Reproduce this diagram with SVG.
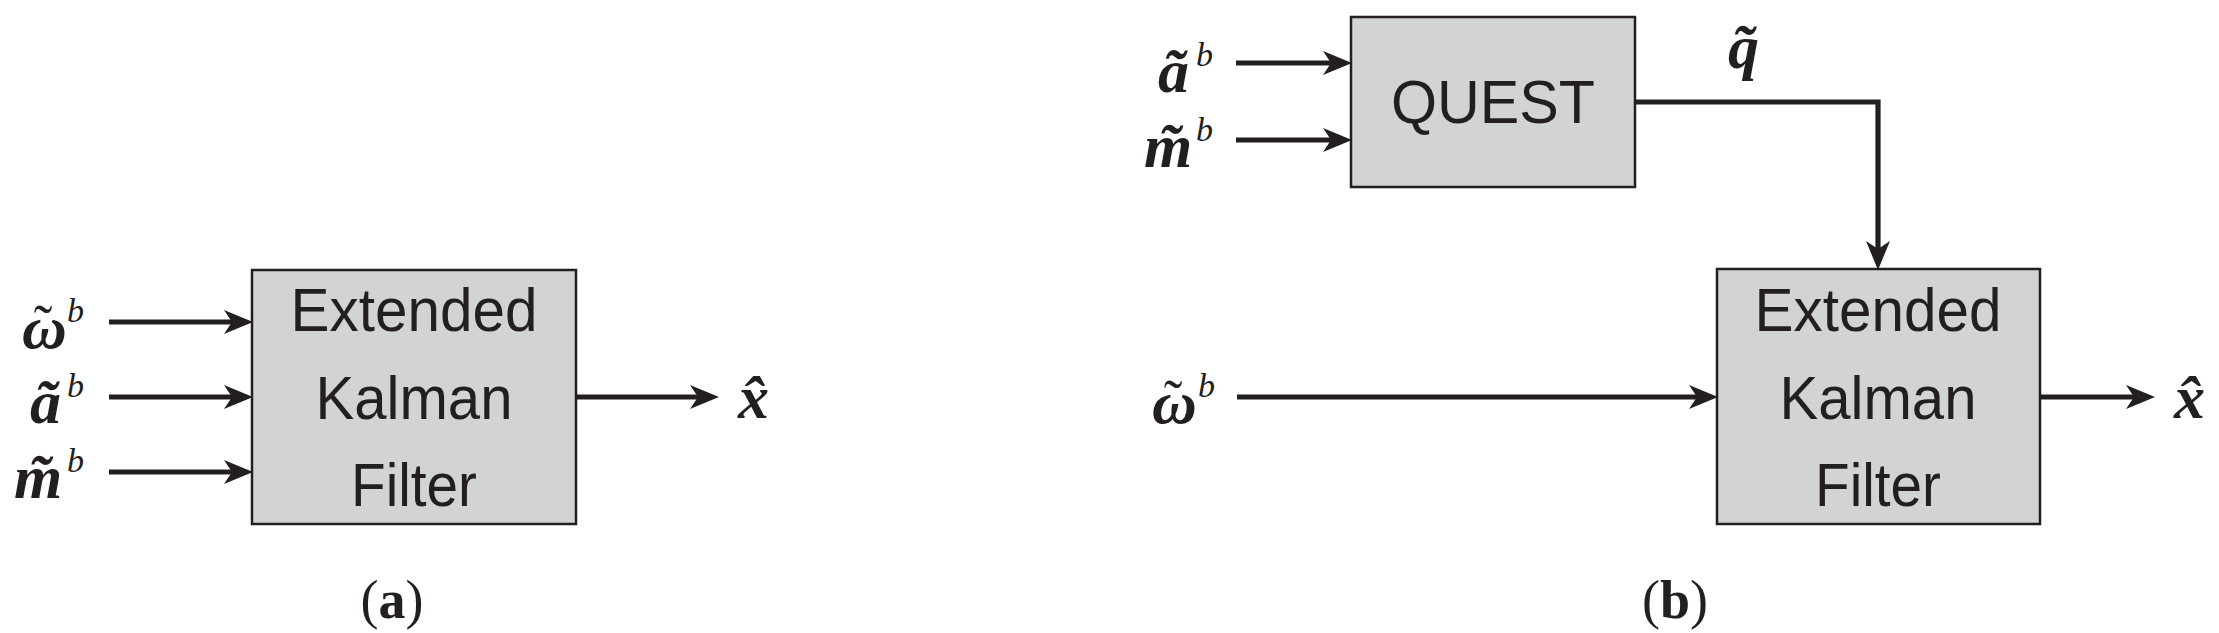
<svg xmlns="http://www.w3.org/2000/svg" width="2219" height="633" viewBox="0 0 2219 633">
<style>
.box{fill:#d1d3d4;stroke:#231f20;stroke-width:2.5}
.lbl{font-family:"Liberation Sans",Arial,sans-serif;font-size:62px;fill:#231f20;text-anchor:middle}
.m{font-family:"Liberation Serif","Times New Roman",serif;font-size:62px;font-weight:bold;font-style:italic;fill:#231f20}
.sup{font-size:34px;font-weight:normal}
.til{font-size:56px;font-weight:normal;font-style:normal}
.cap{font-family:"Liberation Serif","Times New Roman",serif;font-size:54px;fill:#231f20;text-anchor:middle}
.wire{fill:none;stroke:#231f20;stroke-width:5.2}
</style>
<defs>
<marker id="ah" markerUnits="userSpaceOnUse" markerWidth="30" markerHeight="26" viewBox="0 0 30 26" refX="14" refY="13" orient="auto">
<path d="M0,1 L29,13 L0,25 L8,13 Z" fill="#231f20"/>
</marker>
</defs>
<rect width="2219" height="633" fill="#ffffff"/>

<g id="ekf-a">
<rect class="box" x="252" y="270" width="324" height="254"/>
<text class="lbl" x="414" y="331" textLength="247" lengthAdjust="spacingAndGlyphs">Extended</text>
<text class="lbl" x="414" y="419" textLength="197" lengthAdjust="spacingAndGlyphs">Kalman</text>
<text class="lbl" x="414" y="506" textLength="126" lengthAdjust="spacingAndGlyphs">Filter</text>
</g>

<g id="quest">
<rect class="box" x="1351" y="17" width="284" height="170"/>
<text class="lbl" x="1493" y="123" textLength="204" lengthAdjust="spacingAndGlyphs">QUEST</text>
</g>

<g id="ekf-b">
<rect class="box" x="1717" y="269" width="323" height="255"/>
<text class="lbl" x="1878" y="331" textLength="247" lengthAdjust="spacingAndGlyphs">Extended</text>
<text class="lbl" x="1878" y="419" textLength="197" lengthAdjust="spacingAndGlyphs">Kalman</text>
<text class="lbl" x="1878" y="506" textLength="126" lengthAdjust="spacingAndGlyphs">Filter</text>
</g>

<g id="connectors">
<path class="wire" d="M109,322 H238" marker-end="url(#ah)"/>
<path class="wire" d="M109,397 H238" marker-end="url(#ah)"/>
<path class="wire" d="M109,472 H238" marker-end="url(#ah)"/>
<path class="wire" d="M576,397 H704" marker-end="url(#ah)"/>
<path class="wire" d="M1236,63 H1337" marker-end="url(#ah)"/>
<path class="wire" d="M1236,140 H1337" marker-end="url(#ah)"/>
<path class="wire" d="M1635,102 H1878 V255" marker-end="url(#ah)"/>
<path class="wire" d="M1237,397 H1703" marker-end="url(#ah)"/>
<path class="wire" d="M2040,397 H2140" marker-end="url(#ah)"/>
</g>

<g id="labels-a">
<text id="omega-a" class="m" x="22" y="348">ω<tspan class="til" x="43" y="344" text-anchor="middle">˜</tspan><tspan class="sup" x="67" y="322">b</tspan></text>
<text id="acc-a" class="m" x="30" y="423">ã<tspan class="sup" x="67" y="397">b</tspan></text>
<text id="mag-a" class="m" x="14" y="498">m̃<tspan class="sup" x="67" y="472">b</tspan></text>
<text id="xhat-a" class="m" x="738" y="418">x̂</text>
<text class="cap" x="392" y="618">(<tspan font-weight="bold">a</tspan>)</text>
</g>

<g id="labels-b">
<text id="acc-b" class="m" x="1158" y="92">ã<tspan class="sup" x="1196" y="66">b</tspan></text>
<text id="mag-b" class="m" x="1144" y="167">m̃<tspan class="sup" x="1196" y="141">b</tspan></text>
<text id="q-b" class="m" x="1728" y="68">q̃</text>
<text id="omega-b" class="m" x="1152" y="423">ω<tspan class="til" x="1173" y="419" text-anchor="middle">˜</tspan><tspan class="sup" x="1198" y="397">b</tspan></text>
<text id="xhat-b" class="m" x="2174" y="418">x̂</text>
<text class="cap" x="1675" y="618">(<tspan font-weight="bold">b</tspan>)</text>
</g>
</svg>
